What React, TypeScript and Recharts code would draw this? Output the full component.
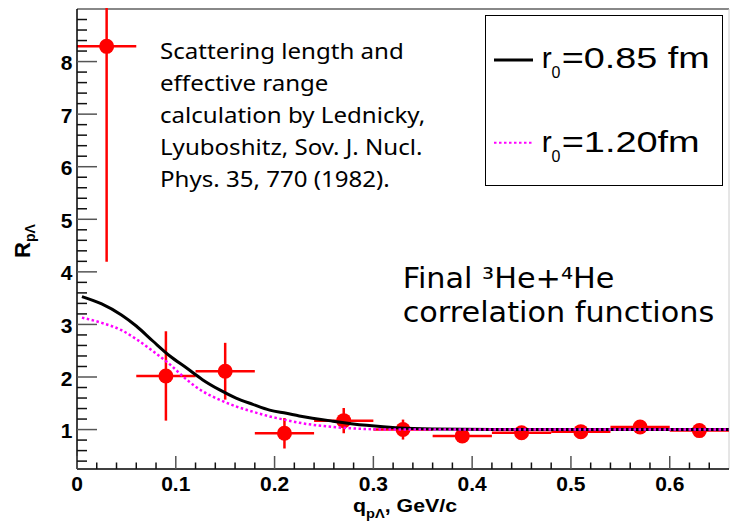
import { ComposedChart, Scatter, Line, XAxis, YAxis, ErrorBar, ReferenceLine, Legend } from "recharts";

// measured points: q (GeV/c), R, errors
const qPoints = [0.03, 0.09, 0.15, 0.21, 0.27, 0.33, 0.39, 0.45, 0.51, 0.57, 0.63];
const rPoints = [8.29, 2.02, 2.11, 0.93, 1.17, 1.0, 0.88, 0.94, 0.96, 1.05, 0.98];
const qErrors = [0.03, 0.03, 0.03, 0.03, 0.03, 0.03, 0.03, 0.03, 0.03, 0.03, 0.03];
const rErrors = [4.1, 0.85, 0.54, 0.29, 0.24, 0.19, 0.08, 0.08, 0.08, 0.08, 0.08];

// model curves (Lednicky-Lyuboshitz)
const modelQ = [0.005, 0.025, 0.045, 0.06, 0.077, 0.094, 0.111, 0.127, 0.144, 0.161, 0.178, 0.195, 0.212, 0.225, 0.259, 0.293, 0.326, 0.36, 0.42, 0.5, 0.58, 0.66];
const modelR085 = [3.53, 3.39, 3.18, 2.97, 2.68, 2.4, 2.17, 1.95, 1.76, 1.6, 1.48, 1.37, 1.31, 1.26, 1.16, 1.08, 1.03, 1.01, 1.0, 1.0, 1.0, 1.0];
const modelR120 = [3.13, 3.03, 2.89, 2.72, 2.49, 2.24, 1.95, 1.73, 1.57, 1.44, 1.34, 1.25, 1.18, 1.13, 1.05, 1.01, 1.0, 1.0, 1.0, 1.0, 1.0, 1.0];

const seriesNames = ["r0=0.85 fm", "r0=1.20fm"];
const noteLines = [
  "Scattering length and",
  "effective range",
  "calculation by Lednicky,",
  "Lyuboshitz, Sov. J. Nucl.",
  "Phys. 35, 770 (1982).",
];
const titleLines = ["Final \u00b3He+\u2074He", "correlation functions"];

const points = qPoints.map((q, i) => ({ q, r: rPoints[i], qe: qErrors[i], re: rErrors[i] }));
const curve085 = modelQ.map((q, i) => ({ q, r: modelR085[i] }));
const curve120 = modelQ.map((q, i) => ({ q, r: modelR120[i] }));

const yTicks: number[] = [];
for (let i = 2; i <= 44; i++) yTicks.push((i * 2) / 10);
const xTicks: number[] = [];
for (let i = 0; i <= 32; i++) xTicks.push((i * 2) / 100);

const ROOT_FONT = "'Liberation Sans', Arial, sans-serif";
const NOTE_FONT = "'Noto Sans', 'Open Sans', sans-serif";
const TITLE_FONT = "'DejaVu Sans', sans-serif";

function YTick(props: any) {
  const { x, y, payload } = props;
  const v = payload.value;
  const major = Math.abs(v - Math.round(v)) < 1e-6;
  return (
    <g>
      <line x1={x} x2={x + (major ? 20 : 10)} y1={y} y2={y} stroke={major ? "#555" : "#111"} strokeWidth={1.5} />
      {major && (
        <text x={x - 4.5} y={y + 8.5} textAnchor="end" fontFamily={ROOT_FONT} fontWeight="bold" fontSize={21} fill="#000">
          {Math.round(v)}
        </text>
      )}
    </g>
  );
}

function XTick(props: any) {
  const { x, y, payload } = props;
  const v = payload.value;
  const major = Math.abs(v * 10 - Math.round(v * 10)) < 1e-6;
  return (
    <g>
      <line x1={x} x2={x} y1={y} y2={y - (major ? 13 : 6.5)} stroke={major ? "#555" : "#111"} strokeWidth={1.5} />
      {major && (
        <text x={x} y={y + 22} textAnchor="middle" fontFamily={ROOT_FONT} fontWeight="bold" fontSize={21} fill="#000">
          {v === 0 ? "0" : v.toFixed(1)}
        </text>
      )}
    </g>
  );
}

function LegendBox({ payload }: any) {
  const items = (payload || []).filter((e: any) => e.type !== "none" && seriesNames.includes(String(e.value)));
  const widths = [148, 138];
  return (
    <svg width={238} height={171} style={{ display: "block" }}>
      <rect x={0.5} y={0.5} width={237} height={170} fill="#fff" stroke="#000" strokeWidth={1} />
      {items.map((entry: any, i: number) => {
        const cy = i === 0 ? 45 : 127.7;
        const base = i === 0 ? 53.3 : 137;
        const name = String(entry.value);
        const dash = entry.payload?.strokeDasharray;
        return (
          <g key={name}>
            <line x1={9} x2={48} y1={cy} y2={cy} stroke={entry.color} strokeWidth={dash ? 2 : 3} strokeDasharray={dash} />
            <text x={56.7} y={base} fontFamily={ROOT_FONT} fontSize={30} fill="#000">r</text>
            <text x={66.5} y={base + 10} fontFamily={ROOT_FONT} fontSize={16} fill="#000">{name.slice(1, 2)}</text>
            <text x={76.7} y={base} fontFamily={ROOT_FONT} fontSize={30} fill="#000" textLength={widths[i]} lengthAdjust="spacingAndGlyphs">
              {name.slice(2)}
            </text>
          </g>
        );
      })}
    </svg>
  );
}

export default function App() {
  return (
    <div style={{ position: "absolute", left: 0, top: 0, width: 730, height: 526, background: "#fff" }}>
      <ComposedChart width={730} height={526} margin={{ top: 9, right: 1, bottom: 0, left: 0 }}>
        <XAxis
          dataKey="q"
          type="number"
          domain={[0, 0.66]}
          allowDataOverflow
          ticks={xTicks}
          interval={0}
          tickSize={0}
          tickMargin={0}
          height={57}
          axisLine={{ stroke: "#000", strokeWidth: 1.5 }}
          tick={<XTick />}
          label={{
            content: () => (
              <text x={457} y={512} textAnchor="end" fontFamily={ROOT_FONT} fontWeight="bold" fontSize={19} fill="#000" textLength={104} lengthAdjust="spacingAndGlyphs">
                q<tspan fontSize={13} dy={6}>p{"\u039b"}</tspan>
                <tspan dy={-6}>, GeV/c</tspan>
              </text>
            ),
          }}
        />
        <YAxis
          type="number"
          domain={[0.25, 9]}
          allowDataOverflow
          ticks={yTicks}
          interval={0}
          tickSize={0}
          tickMargin={0}
          width={77}
          axisLine={{ stroke: "#000", strokeWidth: 1.5 }}
          tick={<YTick />}
          label={{
            content: () => (
              <text transform="translate(30,258) rotate(-90)" fontFamily={ROOT_FONT} fontWeight="bold" fontSize={22} fill="#000">
                R<tspan fontSize={14} dy={5}>p{"\u039b"}</tspan>
              </text>
            ),
          }}
        />
        <ReferenceLine y={9} stroke="#888" strokeWidth={2} />
        <ReferenceLine x={0.66} stroke="#ccc" strokeWidth={1} />
        <Scatter
          data={points}
          dataKey="r"
          legendType="none"
          isAnimationActive={false}
          shape={(p: any) => <circle cx={p.cx} cy={p.cy} r={7.5} fill="#ff0000" />}
        >
          <ErrorBar dataKey="re" direction="y" width={0} stroke="#ff0000" strokeWidth={2.5} />
          <ErrorBar dataKey="qe" direction="x" width={0} stroke="#ff0000" strokeWidth={2.5} />
        </Scatter>
        <Line
          data={curve085}
          dataKey="r"
          name={seriesNames[0]}
          type="monotone"
          stroke="#000000"
          strokeWidth={3}
          dot={false}
          activeDot={false}
          zIndex={700}
          isAnimationActive={false}
        />
        <Line
          data={curve120}
          dataKey="r"
          name={seriesNames[1]}
          type="monotone"
          stroke="#ff00ff"
          strokeWidth={2.5}
          strokeDasharray="2.5 2.5"
          dot={false}
          activeDot={false}
          zIndex={710}
          isAnimationActive={false}
        />
        <Legend
          layout="horizontal"
          align="center"
          verticalAlign="middle"
          content={<LegendBox />}
          wrapperStyle={{ position: "absolute", left: 485, top: 15, width: 238, height: 171 }}
        />
      </ComposedChart>
      <svg width={730} height={526} style={{ position: "absolute", left: 0, top: 0, pointerEvents: "none" }}>
        {/* frame top: hide error bar overflow above the plot */}
        <rect x={0} y={0} width={730} height={8} fill="#fff" />
        <g transform="translate(160,0) scale(1.07,1) translate(-160,0)">
          <text fontFamily={NOTE_FONT} fontSize={22.5} fill="#000">
            {noteLines.map((t, i) => (
              <tspan key={t} x={160} y={59.3 + i * 31.85}>
                {t}
              </tspan>
            ))}
          </text>
        </g>
        <g transform="translate(402.7,0) scale(1.07,1) translate(-402.7,0)">
          <text fontFamily={TITLE_FONT} fontSize={28.3} fill="#000">
            {titleLines.map((t, i) => (
              <tspan key={t} x={402.7} y={288.3 + i * 33.4}>
                {t}
              </tspan>
            ))}
          </text>
        </g>
      </svg>
    </div>
  );
}
